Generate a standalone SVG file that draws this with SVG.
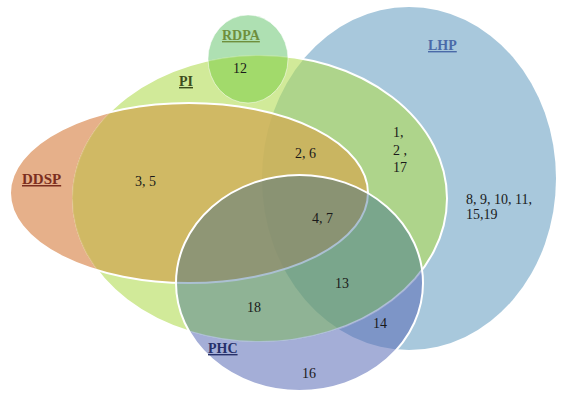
<svg xmlns="http://www.w3.org/2000/svg" width="568" height="395" viewBox="0 0 568 395">
<style>
text{font-family:"Liberation Serif","Times New Roman",serif;font-size:14px;fill:#1a1a1a}
.lbl{font-weight:bold;text-decoration:underline}
.edge{fill:none;stroke:#ffffff;stroke-width:2}
</style>
<defs>
<clipPath id="inPI"><ellipse cx="259.5" cy="198.5" rx="187.5" ry="143.5"/></clipPath>
<clipPath id="outPI"><path clip-rule="evenodd" d="M0,0H568V395H0Z M72,198.5 a187.5,143.5 0 1,0 375,0 a187.5,143.5 0 1,0 -375,0Z"/></clipPath>
</defs>
<rect width="568" height="395" fill="#ffffff"/>
<g id="connectors"/>
<g id="lhp">
<ellipse cx="409" cy="178.5" rx="147" ry="171.5" fill="#a8c8dc"/>
<text class="lbl" x="428" y="50" style="fill:#4a6aa8">LHP</text>
</g>
<g id="pi">
<ellipse cx="259.5" cy="198.5" rx="187.5" ry="143.5" fill="#b2dc55" fill-opacity="0.6"/>
<ellipse class="edge" cx="259.5" cy="198.5" rx="187.5" ry="143.5"/>
<text class="lbl" x="179" y="86" style="fill:#3d4d1c">PI</text>
</g>
<g id="rdpa">
<ellipse cx="248" cy="59" rx="40" ry="44" fill="#78cc7e" fill-opacity="0.6" clip-path="url(#outPI)"/>
<ellipse cx="248" cy="59" rx="40" ry="44" fill="#7ccc46" fill-opacity="0.55" clip-path="url(#inPI)"/>
<ellipse cx="248" cy="59" rx="40" ry="44" fill="none" stroke="#ffffff" stroke-opacity="0.5" stroke-width="1"/>
<text class="lbl" x="222" y="40" style="fill:#6f8f3c">RDPA</text>
</g>
<g id="ddsp">
<ellipse cx="189" cy="193" rx="179" ry="90" fill="#e6b08a" clip-path="url(#outPI)"/>
<ellipse cx="189" cy="193" rx="179" ry="90" fill="#d0ac56" fill-opacity="0.8" clip-path="url(#inPI)"/>
<ellipse class="edge" cx="189" cy="193" rx="179" ry="90"/>
<text class="lbl" x="22" y="184" style="fill:#7b2e1e;font-size:15px">DDSP</text>
</g>
<g id="phc">
<ellipse cx="299.5" cy="283" rx="123.5" ry="108" fill="#5a6bb6" fill-opacity="0.55" clip-path="url(#outPI)"/>
<ellipse cx="299.5" cy="283" rx="123.5" ry="108" fill="#2d618e" fill-opacity="0.4" clip-path="url(#inPI)"/>
<ellipse class="edge" cx="299.5" cy="283" rx="123.5" ry="108"/>
<text class="lbl" x="208" y="353" style="fill:#26306a">PHC</text>
</g>
<g id="counts">
<text x="233" y="73">12</text>
<text x="135" y="186">3, 5</text>
<text x="295" y="158">2, 6</text>
<text x="312" y="223">4, 7</text>
<text x="393" y="137">1,</text>
<text x="393" y="155">2 ,</text>
<text x="393" y="172">17</text>
<text x="466" y="204">8, 9, 10, 11,</text>
<text x="466" y="219">15,19</text>
<text x="335" y="288">13</text>
<text x="247" y="312">18</text>
<text x="373" y="328">14</text>
<text x="302" y="378">16</text>
</g>
</svg>
